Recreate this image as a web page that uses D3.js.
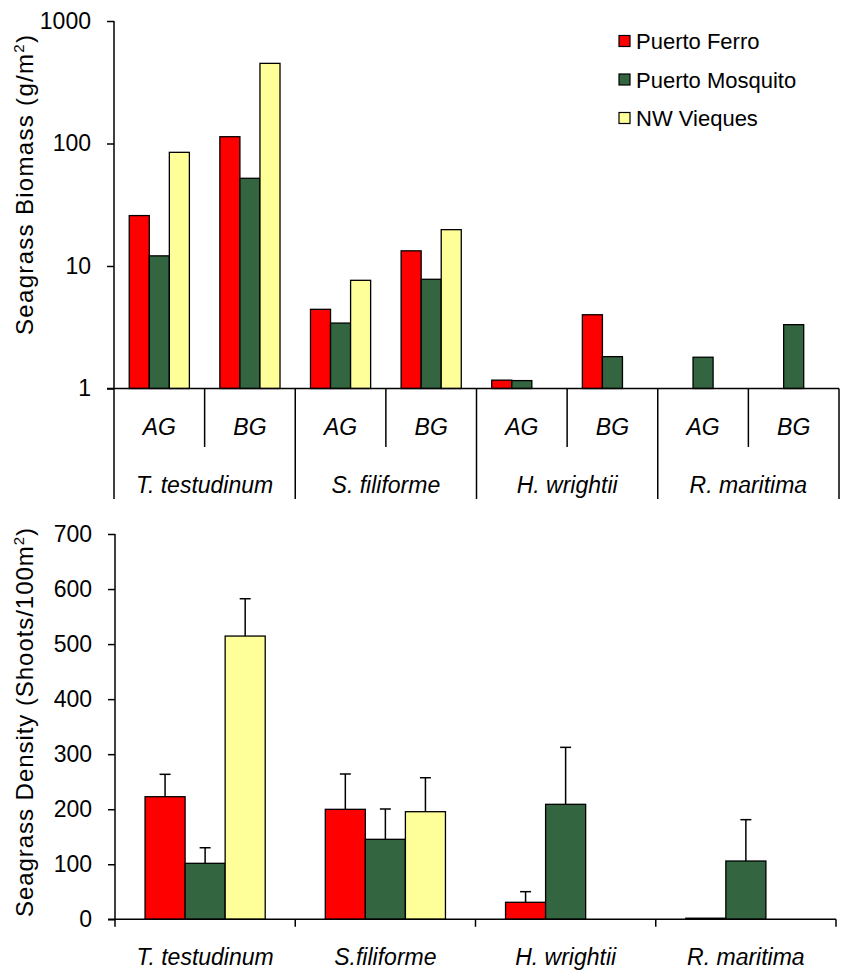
<!DOCTYPE html>
<html>
<head>
<meta charset="utf-8">
<script src="https://cdn.jsdelivr.net/npm/d3@7"></script>
<style>
  html, body { margin: 0; padding: 0; background: #fff; }
  svg { display: block; font-family: "Liberation Sans", Arial, sans-serif; }
</style>
</head>
<body>
<svg id="chart" width="845" height="970"></svg>
<script>
// ---------- DATA ----------
const seriesNames = ["Puerto Ferro", "Puerto Mosquito", "NW Vieques"];
const seriesColors = ["#FF0000", "#336640", "#FFFF99"];

const biomassSpecies = ["T. testudinum", "S. filiforme", "H. wrightii", "R. maritima"];
const biomassParts = ["AG", "BG"];
// order: T.t AG, T.t BG, S.f AG, S.f BG, H.w AG, H.w BG, R.m AG, R.m BG
const biomassFerro    = [25.8, 113.6, 4.43, 13.3, 1.17, 4.0, null, null];
const biomassMosquito = [12.1, 52.0, 3.42, 7.79, 1.16, 1.82, 1.80, 3.32];
const biomassVieques  = [84.7, 451, 7.64, 19.8, null, null, null, null];
const biomassTicks = [1, 10, 100, 1000];

const densitySpecies = ["T. testudinum", "S.filiforme", "H. wrightii", "R. maritima"];
const densityFerro    = [222.7, 199.8, 30.9, 2];
const densityMosquito = [101.7, 145.3, 208.9, 105.9];
const densityVieques  = [514.6, 195.5, null, null];
const errFerro    = [40.7, 64.2, 19.3, null];
const errMosquito = [28.3, 55.1, 103.5, 75.1];
const errVieques  = [67.8, 61.7, null, null];
const densityTicks = [0, 100, 200, 300, 400, 500, 600, 700];

// ---------- SETUP ----------
const svg = d3.select("#chart");
const black = "#000";

// ===== TOP CHART (log biomass) =====
const topGroups = [];
biomassSpecies.forEach(s => biomassParts.forEach(p => topGroups.push(s + "|" + p)));
const biomassSeries = [biomassFerro, biomassMosquito, biomassVieques];

const xTop = d3.scaleBand().domain(topGroups).range([114, 839]).padding(0);
const xTopInner = d3.scaleBand().domain(seriesNames).range([0, xTop.bandwidth()])
  .paddingInner(0).paddingOuter(0.76);
const yTop = d3.scaleLog().domain([1, 1000]).range([388.5, 21]);

const gTop = svg.append("g");

// bars
topGroups.forEach((grp, gi) => {
  seriesNames.forEach((sn, si) => {
    const v = biomassSeries[si][gi];
    if (v == null) return;
    gTop.append("rect")
      .attr("x", xTop(grp) + xTopInner(sn))
      .attr("y", yTop(v))
      .attr("width", xTopInner.bandwidth())
      .attr("height", yTop(1) - yTop(v))
      .attr("fill", seriesColors[si])
      .attr("stroke", black)
      .attr("stroke-width", 1.3);
  });
});

// y axis
const yAxisTop = d3.axisLeft(yTop).tickValues(biomassTicks)
  .tickFormat(d3.format("d")).tickSize(7).tickPadding(16);
const gyTop = gTop.append("g").attr("transform", "translate(114,0)").call(yAxisTop);
gyTop.select(".domain").remove();
gyTop.selectAll(".tick line").attr("stroke", black).attr("stroke-width", 1.5);
gyTop.selectAll(".tick text").attr("font-size", 23).attr("fill", black)
  .attr("font-family", "Liberation Sans, Arial, sans-serif");
gTop.append("line").attr("x1", 114).attr("x2", 114).attr("y1", yTop(1000)).attr("y2", 499)
  .attr("stroke", black).attr("stroke-width", 1.5);
// baseline
gTop.append("line").attr("x1", 107).attr("x2", 839).attr("y1", yTop(1)).attr("y2", yTop(1))
  .attr("stroke", black).attr("stroke-width", 1.5);

// category table: dividers
topGroups.forEach((grp, gi) => {
  const x = xTop(grp) + xTop.bandwidth();
  const isSpeciesEnd = gi % 2 === 1;
  gTop.append("line").attr("x1", x).attr("x2", x)
    .attr("y1", yTop(1)).attr("y2", isSpeciesEnd ? 499 : 447)
    .attr("stroke", black).attr("stroke-width", 1.5);
  gTop.append("text")
    .attr("x", xTop(grp) + xTop.bandwidth() / 2)
    .attr("y", 435)
    .attr("text-anchor", "middle")
    .attr("font-size", 23).attr("font-style", "italic")
    .text(grp.split("|")[1]);
});
biomassSpecies.forEach((s, i) => {
  const x0 = xTop(s + "|AG"), x1 = xTop(s + "|BG") + xTop.bandwidth();
  gTop.append("text")
    .attr("x", (x0 + x1) / 2).attr("y", 493)
    .attr("text-anchor", "middle")
    .attr("font-size", 23).attr("font-style", "italic")
    .text(s);
});

// y title
const tTop = gTop.append("text")
  .attr("transform", "translate(33,185) rotate(-90)")
  .attr("text-anchor", "middle")
  .attr("font-size", 24)
  .attr("textLength", 300).attr("lengthAdjust", "spacing");
tTop.append("tspan").text("Seagrass Biomass (g/m");
tTop.append("tspan").attr("font-size", 15).attr("dy", -9).text("2");
tTop.append("tspan").attr("dy", 9).text(")");

// legend
const legend = svg.append("g");
seriesNames.forEach((sn, i) => {
  const cy = 41 + i * 38.5;
  legend.append("rect").attr("x", 619).attr("y", cy - 5.5).attr("width", 11).attr("height", 11)
    .attr("fill", seriesColors[i]).attr("stroke", black).attr("stroke-width", 1.2);
  legend.append("text").attr("x", 636).attr("y", cy + 8)
    .attr("font-size", 22).text(sn);
});

// ===== BOTTOM CHART (density) =====
const densitySeries = [densityFerro, densityMosquito, densityVieques];
const errSeries = [errFerro, errMosquito, errVieques];

const xBot = d3.scaleBand().domain(densitySpecies).range([115, 836]).padding(0);
const xBotInner = d3.scaleBand().domain(seriesNames).range([0, xBot.bandwidth()])
  .paddingInner(0).paddingOuter(0.75);
const yBot = d3.scaleLinear().domain([0, 700]).range([919.3, 534]);

const gBot = svg.append("g");

densitySpecies.forEach((sp, gi) => {
  seriesNames.forEach((sn, si) => {
    const v = densitySeries[si][gi];
    if (v == null) return;
    const x = xBot(sp) + xBotInner(sn);
    const w = xBotInner.bandwidth();
    gBot.append("rect")
      .attr("x", x).attr("y", yBot(v))
      .attr("width", w).attr("height", yBot(0) - yBot(v))
      .attr("fill", seriesColors[si])
      .attr("stroke", black).attr("stroke-width", 1.3);
    const e = errSeries[si][gi];
    if (e != null) {
      const cx = x + w / 2;
      gBot.append("line").attr("x1", cx).attr("x2", cx)
        .attr("y1", yBot(v)).attr("y2", yBot(v + e))
        .attr("stroke", black).attr("stroke-width", 1.5);
      gBot.append("line").attr("x1", cx - 5.5).attr("x2", cx + 5.5)
        .attr("y1", yBot(v + e)).attr("y2", yBot(v + e))
        .attr("stroke", black).attr("stroke-width", 1.5);
    }
  });
});

const yAxisBot = d3.axisLeft(yBot).tickValues(densityTicks)
  .tickFormat(d3.format("d")).tickSize(7).tickPadding(16);
const gyBot = gBot.append("g").attr("transform", "translate(115,0)").call(yAxisBot);
gyBot.select(".domain").attr("d", `M0,${yBot(700)}V${yBot(0)}`)
  .attr("stroke", black).attr("stroke-width", 1.5);
gyBot.selectAll(".tick line").attr("stroke", black).attr("stroke-width", 1.5);
gyBot.selectAll(".tick text").attr("font-size", 23).attr("fill", black)
  .attr("font-family", "Liberation Sans, Arial, sans-serif");

// x axis bottom
gBot.append("line").attr("x1", 108).attr("x2", 836).attr("y1", yBot(0)).attr("y2", yBot(0))
  .attr("stroke", black).attr("stroke-width", 1.5);
const bounds = [xBot(densitySpecies[0])].concat(densitySpecies.map(s => xBot(s) + xBot.bandwidth()));
bounds.forEach(x => {
  gBot.append("line").attr("x1", x).attr("x2", x)
    .attr("y1", yBot(0)).attr("y2", yBot(0) + 7.5)
    .attr("stroke", black).attr("stroke-width", 1.5);
});
densitySpecies.forEach(sp => {
  gBot.append("text")
    .attr("x", xBot(sp) + xBot.bandwidth() / 2).attr("y", 965)
    .attr("text-anchor", "middle")
    .attr("font-size", 23).attr("font-style", "italic")
    .text(sp);
});

const tBot = gBot.append("text")
  .attr("transform", "translate(33,722.5) rotate(-90)")
  .attr("text-anchor", "middle")
  .attr("font-size", 24)
  .attr("textLength", 389).attr("lengthAdjust", "spacing");
tBot.append("tspan").text("Seagrass Density (Shoots/100m");
tBot.append("tspan").attr("font-size", 15).attr("dy", -9).text("2");
tBot.append("tspan").attr("dy", 9).text(")");
</script>
</body>
</html>
